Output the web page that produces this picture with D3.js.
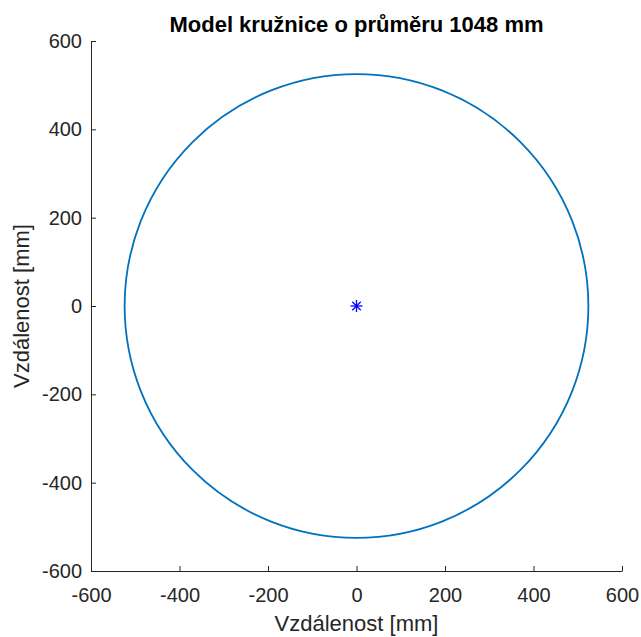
<!DOCTYPE html>
<html lang="cs">
<head>
<meta charset="UTF-8">
<title>Model kružnice</title>
<style>
  body { margin: 0; background: #fff; }
  svg text { font-family: "Liberation Sans", Arial, sans-serif; }
  .axis path, .axis line { stroke: #262626; }
  .axis text { fill: #262626; font-size: 20px; }
</style>
</head>
<body>
<svg id="chart" width="641" height="637"></svg>
<script src="https://d3js.org/d3.v7.min.js"></script>
<script>
  // data
  const diameter = 1048;
  const center = [{x: 0, y: 0}];
  const xTicks = [-600, -400, -200, 0, 200, 400, 600];
  const yTicks = [-600, -400, -200, 0, 200, 400, 600];

  const margin = {top: 41, right: 19, bottom: 66, left: 91};
  const svg = d3.select("#chart");
  const width = 641 - margin.left - margin.right,
        height = 637 - margin.top - margin.bottom;

  const g = svg.append("g").attr("transform", `translate(${margin.left},${margin.top})`);

  const x = d3.scaleLinear().domain([-600, 600]).range([0, width]);
  const y = d3.scaleLinear().domain([-600, 600]).range([height, 0]);

  const fmt = d => String(d); // plain hyphen minus like matlab

  // axes, ticks pointing inwards
  g.append("g")
      .attr("class", "axis")
      .attr("transform", `translate(0,${height})`)
      .call(d3.axisBottom(x).tickValues(xTicks).tickFormat(fmt).tickSize(-5).tickPadding(17).tickSizeOuter(0))
      .selectAll("text").attr("dy", "0.71em");

  g.append("g")
      .attr("class", "axis")
      .call(d3.axisLeft(y).tickValues(yTicks).tickFormat(fmt).tickSize(-5).tickPadding(9).tickSizeOuter(0));

  // the circle
  g.append("circle")
      .attr("cx", x(0))
      .attr("cy", y(0))
      .attr("r", x(diameter / 2) - x(0))
      .attr("fill", "none")
      .attr("stroke", "#0072BD")
      .attr("stroke-width", 1.8);

  // centre marker (asterisk)
  const mk = g.selectAll(".mk").data(center).enter().append("g")
      .attr("transform", d => `translate(${x(d.x)},${y(d.y)})`);
  [0, 45, 90, 135].forEach(a => {
    mk.append("line")
        .attr("x1", -6).attr("x2", 6).attr("y1", 0).attr("y2", 0)
        .attr("transform", `rotate(${a})`)
        .attr("stroke", "#0000ff").attr("stroke-width", 1.3);
  });

  // labels
  svg.append("text")
      .attr("x", margin.left + width / 2)
      .attr("y", 32)
      .attr("text-anchor", "middle")
      .style("font-weight", "bold")
      .style("font-size", "22px")
      .attr("fill", "#000")
      .text("Model kružnice o průměru 1048 mm");

  svg.append("text")
      .attr("x", margin.left + width / 2)
      .attr("y", 631)
      .attr("text-anchor", "middle")
      .style("font-size", "22px")
      .attr("fill", "#262626")
      .text("Vzdálenost [mm]");

  svg.append("text")
      .attr("transform", `translate(29,${margin.top + height / 2}) rotate(-90)`)
      .attr("text-anchor", "middle")
      .style("font-size", "22px")
      .attr("fill", "#262626")
      .text("Vzdálenost [mm]");
</script>
</body>
</html>
